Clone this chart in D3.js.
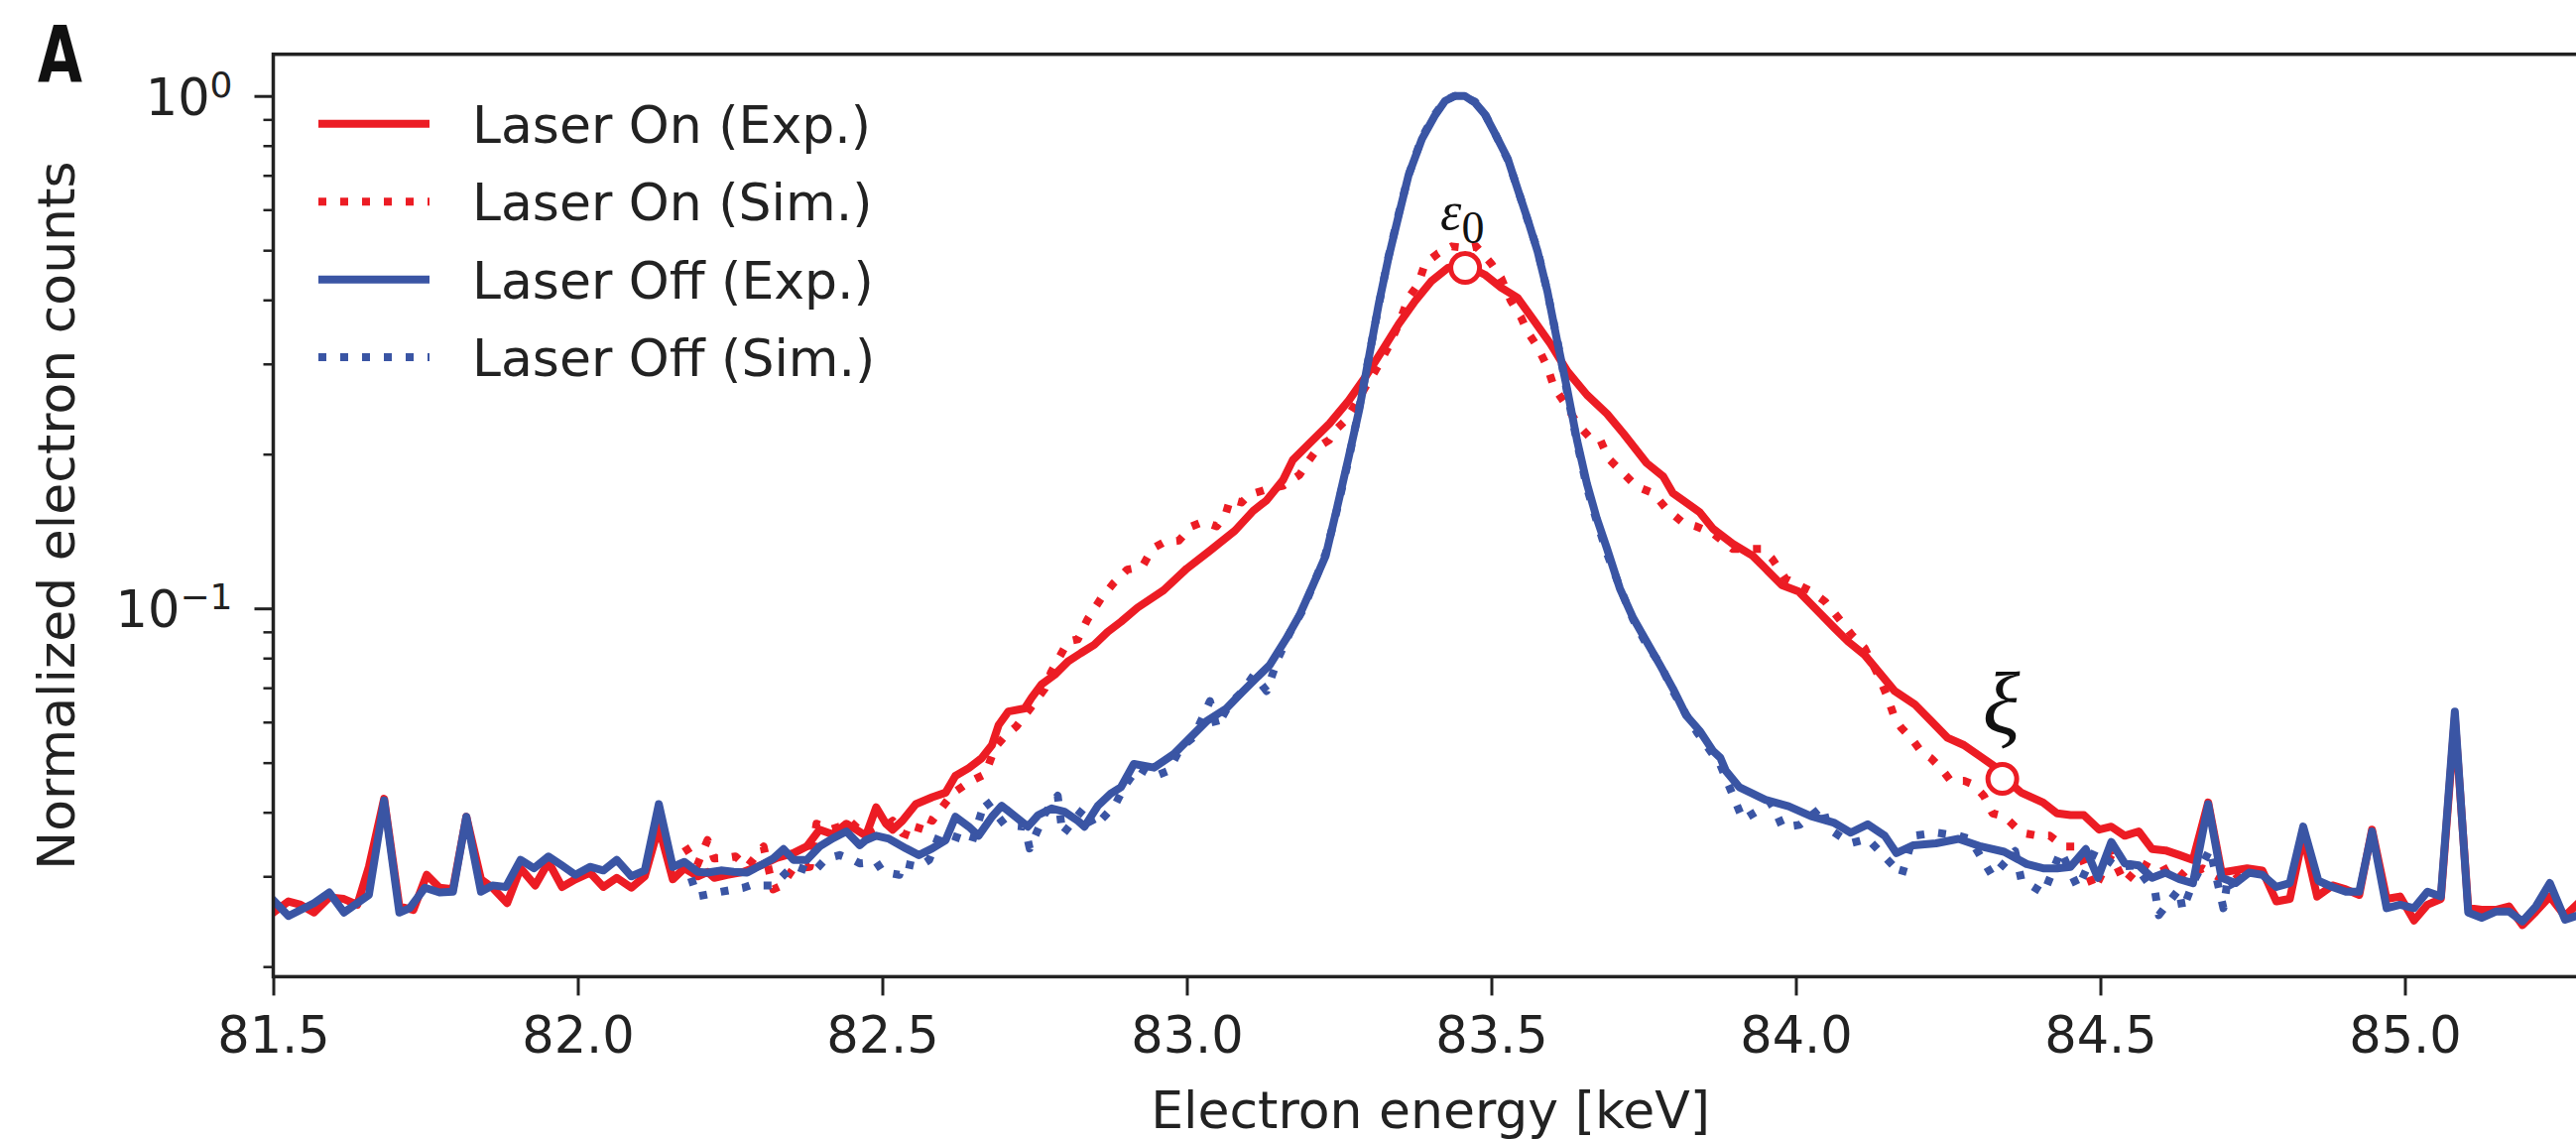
<!DOCTYPE html>
<html>
<head>
<meta charset="utf-8">
<script src="https://cdn.jsdelivr.net/npm/d3@7"></script>
<style>
  html, body { margin: 0; padding: 0; background: #fff; }
  svg { display: block; }
</style>
</head>
<body>
<script>
// ---------------- DATA ----------------
const xTicks = [81.5, 82.0, 82.5, 83.0, 83.5, 84.0, 84.5, 85.0];
const yMajorTicks = [1, 0.1];
const yMajorLabels = [["10", "0"], ["10", "\u22121"]];
const yMinorTicks = [0.02, 0.03, 0.04, 0.05, 0.06, 0.07, 0.08, 0.09, 0.2, 0.3, 0.4, 0.5, 0.6, 0.7, 0.8, 0.9];
const seriesNames = ["Laser On (Exp.)", "Laser On (Sim.)", "Laser Off (Exp.)", "Laser Off (Sim.)"];
const seriesColors = ["#ec1c24", "#ec1c24", "#3a55a4", "#3a55a4"];
const seriesDotted = [false, true, false, true];
const markers = [[83.457, 0.462, "\u03b5", "0"], [84.339, 0.0465, "\u03be", ""]];

const laserOnExp = [
[81.502,0.0256],[81.525,0.0268],[81.545,0.0264],[81.567,0.0255],[81.592,0.0273],[81.616,0.0271],[81.638,0.0264],
[81.657,0.0313],[81.682,0.0425],[81.707,0.0262],[81.730,0.0258],[81.752,0.0302],[81.773,0.0285],[81.795,0.0283],
[81.817,0.0392],[81.841,0.0296],[81.860,0.0285],[81.884,0.0266],[81.906,0.0311],[81.930,0.0288],[81.952,0.0320],
[81.974,0.0286],[81.996,0.0296],[82.020,0.0305],[82.042,0.0286],[82.064,0.0298],[82.088,0.0285],[82.110,0.0300],
[82.133,0.0375],[82.156,0.0296],[82.175,0.0311],[82.197,0.0300],[82.213,0.0306],[82.224,0.0298],[82.245,0.0302],
[82.272,0.0306],[82.300,0.0315],[82.327,0.0326],[82.354,0.0333],[82.376,0.0343],[82.397,0.0370],[82.419,0.0362],
[82.441,0.0380],[82.457,0.0370],[82.473,0.0360],[82.490,0.0409],[82.506,0.0380],[82.517,0.0370],[82.533,0.0385],
[82.555,0.0415],[82.582,0.0428],[82.604,0.0437],[82.620,0.0471],[82.642,0.0488],[82.663,0.0510],[82.680,0.0541],
[82.691,0.0592],[82.707,0.0629],[82.734,0.0638],[82.745,0.0669],[82.761,0.0710],[82.783,0.0742],[82.805,0.0788],
[82.826,0.0818],[82.848,0.0849],[82.870,0.0900],[82.892,0.0942],[82.919,0.1003],[82.962,0.1085],[83.000,0.1196],
[83.038,0.1296],[83.079,0.1418],[83.109,0.1550],[83.131,0.1625],[83.158,0.1780],[83.174,0.1948],[83.201,0.2097],
[83.234,0.2292],[83.266,0.2545],[83.293,0.2828],[83.321,0.3187],[83.348,0.3590],[83.375,0.3982],[83.402,0.4357],
[83.429,0.4622],[83.456,0.4686],[83.489,0.4482],[83.516,0.4226],[83.543,0.4039],[83.570,0.3645],[83.597,0.3284],
[83.625,0.2900],[83.657,0.2610],[83.690,0.2397],[83.717,0.2193],[83.755,0.1921],[83.782,0.1810],[83.798,0.1679],
[83.842,0.1541],[83.864,0.1430],[83.896,0.1337],[83.929,0.1267],[83.950,0.1196],[83.977,0.1110],[84.005,0.1078],
[84.037,0.0985],[84.064,0.0914],[84.086,0.0861],[84.113,0.0811],[84.140,0.0742],[84.162,0.0690],[84.195,0.0650],
[84.222,0.0603],[84.249,0.0559],[84.276,0.0541],[84.303,0.0514],[84.330,0.0488],[84.340,0.0470],[84.370,0.0437],
[84.406,0.0418],[84.429,0.0398],[84.451,0.0395],[84.473,0.0395],[84.498,0.0370],[84.518,0.0375],[84.540,0.0360],
[84.563,0.0367],[84.585,0.0339],[84.607,0.0337],[84.630,0.0330],[84.652,0.0323],[84.677,0.0418],[84.699,0.0305],
[84.719,0.0308],[84.741,0.0311],[84.766,0.0308],[84.789,0.0268],[84.811,0.0271],[84.833,0.0360],[84.856,0.0274],
[84.881,0.0288],[84.903,0.0283],[84.925,0.0276],[84.946,0.0370],[84.970,0.0271],[84.992,0.0274],[85.015,0.0246],
[85.037,0.0264],[85.059,0.0271],[85.082,0.0612],[85.104,0.0260],[85.126,0.0258],[85.149,0.0258],[85.171,0.0262],
[85.193,0.0241],[85.215,0.0256],[85.238,0.0274],[85.263,0.0251],[85.285,0.0266]
];

const laserOnSim = [
[82.176,0.0343],[82.196,0.0315],[82.213,0.0353],[82.224,0.0325],[82.245,0.0326],[82.259,0.0328],[82.278,0.0313],
[82.305,0.0343],[82.321,0.0283],[82.335,0.0288],[82.354,0.0311],[82.381,0.0313],[82.392,0.0380],[82.414,0.0370],
[82.430,0.0375],[82.446,0.0385],[82.473,0.0360],[82.495,0.0370],[82.517,0.0385],[82.533,0.0364],[82.555,0.0356],
[82.566,0.0392],[82.582,0.0385],[82.615,0.0435],[82.642,0.0458],[82.669,0.0475],[82.685,0.0535],[82.699,0.0559],
[82.720,0.0588],[82.739,0.0629],[82.767,0.0698],[82.777,0.0750],[82.805,0.0862],[82.821,0.0870],[82.837,0.0952],
[82.859,0.1045],[82.880,0.1121],[82.902,0.1190],[82.927,0.1206],[82.943,0.1307],[82.962,0.1345],[82.987,0.1356],
[83.008,0.1446],[83.027,0.1476],[83.049,0.1446],[83.063,0.1515],[83.071,0.1633],[83.090,0.1610],[83.103,0.1668],
[83.131,0.1706],[83.158,0.1735],[83.185,0.1822],[83.201,0.1948],[83.217,0.2070],[83.234,0.2132],[83.245,0.2233],
[83.261,0.2329],[83.277,0.2506],[83.293,0.2702],[83.310,0.2916],[83.331,0.3236],[83.348,0.3590],[83.364,0.4039],
[83.380,0.4292],[83.391,0.4706],[83.413,0.4936],[83.435,0.5086],[83.462,0.5046],[83.475,0.5086],[83.500,0.4706],
[83.516,0.4415],[83.532,0.3982],[83.549,0.3694],[83.559,0.3473],[83.576,0.3236],[83.592,0.2957],[83.603,0.2702],
[83.625,0.2470],[83.641,0.2292],[83.663,0.2146],[83.679,0.2132],[83.692,0.1962],[83.717,0.1834],[83.739,0.1727],
[83.766,0.1679],[83.787,0.1566],[83.815,0.1468],[83.836,0.1446],[83.864,0.1400],[83.896,0.1307],[83.945,0.1307],
[83.961,0.1250],[83.983,0.1143],[84.026,0.1078],[84.048,0.1031],[84.070,0.0957],[84.092,0.0887],[84.113,0.0836],
[84.135,0.0742],[84.151,0.0669],[84.162,0.0612],[84.173,0.0585],[84.189,0.0559],[84.205,0.0527],[84.222,0.0510],
[84.238,0.0488],[84.254,0.0461],[84.276,0.0461],[84.292,0.0453],[84.309,0.0430],[84.323,0.0398],[84.342,0.0393],
[84.370,0.0365],[84.398,0.0360],[84.417,0.0360],[84.440,0.0343],[84.462,0.0343],[84.490,0.0283],[84.518,0.0330],
[84.540,0.0291],[84.568,0.0318],[84.596,0.0305],[84.618,0.0315],[84.640,0.0298],[84.668,0.0311],[84.696,0.0298],
[84.719,0.0306],[84.741,0.0286]
];

const laserOffExp = [
[81.502,0.0268],[81.525,0.0251],[81.567,0.0266],[81.592,0.0279],[81.616,0.0255],[81.657,0.0276],[81.682,0.0422],
[81.707,0.0255],[81.724,0.0260],[81.749,0.0285],[81.773,0.0279],[81.795,0.0280],[81.817,0.0392],[81.841,0.0280],
[81.860,0.0288],[81.882,0.0286],[81.906,0.0323],[81.928,0.0311],[81.952,0.0328],[81.974,0.0315],[81.996,0.0302],
[82.020,0.0313],[82.042,0.0308],[82.064,0.0323],[82.088,0.0300],[82.110,0.0308],[82.133,0.0415],[82.156,0.0313],
[82.175,0.0320],[82.197,0.0306],[82.213,0.0305],[82.235,0.0308],[82.256,0.0306],[82.278,0.0305],[82.300,0.0315],
[82.321,0.0325],[82.338,0.0339],[82.354,0.0323],[82.376,0.0323],[82.397,0.0343],[82.419,0.0356],[82.441,0.0367],
[82.463,0.0345],[82.473,0.0353],[82.490,0.0360],[82.511,0.0355],[82.539,0.0340],[82.560,0.0330],[82.582,0.0340],
[82.604,0.0353],[82.620,0.0392],[82.642,0.0375],[82.658,0.0360],[82.680,0.0392],[82.696,0.0412],[82.712,0.0398],
[82.739,0.0375],[82.756,0.0395],[82.778,0.0407],[82.799,0.0401],[82.821,0.0385],[82.832,0.0375],[82.854,0.0412],
[82.875,0.0435],[82.892,0.0448],[82.913,0.0497],[82.946,0.0489],[82.979,0.0520],[83.011,0.0568],[83.033,0.0603],
[83.065,0.0638],[83.087,0.0679],[83.114,0.0731],[83.136,0.0775],[83.163,0.0872],[83.185,0.0970],[83.207,0.1110],
[83.228,0.1267],[83.245,0.1541],[83.266,0.1979],[83.283,0.2441],[83.299,0.3091],[83.315,0.3921],[83.331,0.4827],
[83.348,0.5856],[83.364,0.7001],[83.386,0.8240],[83.407,0.9146],[83.424,0.9780],[83.440,1.0000],[83.456,1.0000],
[83.473,0.9710],[83.489,0.9220],[83.505,0.8490],[83.527,0.7540],[83.543,0.6590],[83.559,0.5770],[83.576,0.4970],
[83.592,0.4160],[83.608,0.3330],[83.625,0.2660],[83.641,0.2120],[83.657,0.1750],[83.673,0.1500],[83.690,0.1307],
[83.711,0.1094],[83.733,0.0957],[83.755,0.0861],[83.777,0.0775],[83.798,0.0698],[83.820,0.0618],[83.842,0.0577],
[83.864,0.0527],[83.876,0.0511],[83.885,0.0482],[83.907,0.0448],[83.929,0.0435],[83.950,0.0423],[83.988,0.0411],
[84.025,0.0393],[84.062,0.0382],[84.090,0.0365],[84.118,0.0379],[84.146,0.0360],[84.165,0.0333],[84.193,0.0345],
[84.230,0.0348],[84.267,0.0355],[84.304,0.0343],[84.342,0.0335],[84.379,0.0317],[84.406,0.0311],[84.429,0.0311],
[84.451,0.0313],[84.476,0.0339],[84.496,0.0298],[84.518,0.0350],[84.540,0.0318],[84.563,0.0315],[84.585,0.0298],
[84.607,0.0305],[84.630,0.0296],[84.652,0.0291],[84.677,0.0415],[84.699,0.0298],[84.722,0.0291],[84.744,0.0305],
[84.766,0.0302],[84.789,0.0286],[84.811,0.0291],[84.833,0.0375],[84.858,0.0294],[84.881,0.0286],[84.903,0.0280],
[84.925,0.0280],[84.946,0.0367],[84.970,0.0260],[84.992,0.0264],[85.015,0.0260],[85.037,0.0280],[85.059,0.0274],
[85.082,0.0629],[85.104,0.0255],[85.126,0.0249],[85.149,0.0256],[85.171,0.0256],[85.193,0.0245],[85.215,0.0262],
[85.238,0.0291],[85.263,0.0247],[85.285,0.0252]
];

const laserOffSim = [
[82.186,0.0298],[82.196,0.0274],[82.229,0.0279],[82.272,0.0285],[82.283,0.0288],[82.321,0.0288],[82.354,0.0315],
[82.386,0.0305],[82.408,0.0325],[82.430,0.0330],[82.452,0.0323],[82.463,0.0318],[82.490,0.0320],[82.501,0.0306],
[82.528,0.0302],[82.533,0.0318],[82.560,0.0313],[82.577,0.0323],[82.593,0.0360],[82.615,0.0360],[82.647,0.0349],
[82.669,0.0422],[82.701,0.0378],[82.734,0.0375],[82.742,0.0340],[82.767,0.0398],[82.788,0.0431],[82.796,0.0362],
[82.832,0.0409],[82.848,0.0375],[82.864,0.0392],[82.883,0.0415],[82.897,0.0448],[82.920,0.0490],[82.946,0.0470],
[82.970,0.0482],[82.990,0.0535],[83.011,0.0560],[83.038,0.0659],[83.049,0.0587],[83.070,0.0650],[83.092,0.0690],
[83.110,0.0742],[83.131,0.0690],[83.150,0.0800],[83.170,0.0900],[83.190,0.0990],[83.210,0.1130],[83.228,0.1280],
[83.245,0.1530],[83.266,0.1960],[83.283,0.2460],[83.299,0.3100],[83.315,0.3900],[83.331,0.4850],[83.348,0.5900],
[83.364,0.7000],[83.386,0.8300],[83.407,0.9200],[83.424,0.9800],[83.440,1.0000],[83.456,0.9950],[83.473,0.9750],
[83.489,0.9250],[83.505,0.8500],[83.527,0.7500],[83.543,0.6600],[83.559,0.5750],[83.576,0.5000],[83.592,0.4150],
[83.608,0.3350],[83.625,0.2620],[83.641,0.2100],[83.657,0.1720],[83.673,0.1480],[83.690,0.1280],[83.711,0.1100],
[83.733,0.0950],[83.755,0.0850],[83.777,0.0780],[83.798,0.0690],[83.820,0.0620],[83.839,0.0570],[83.876,0.0495],
[83.913,0.0387],[83.960,0.0418],[83.978,0.0374],[84.006,0.0378],[84.044,0.0411],[84.053,0.0372],[84.090,0.0348],
[84.118,0.0355],[84.174,0.0302],[84.193,0.0360],[84.230,0.0365],[84.267,0.0360],[84.286,0.0355],[84.323,0.0300],
[84.360,0.0336],[84.370,0.0296],[84.407,0.0278],[84.435,0.0336],[84.463,0.0285],[84.491,0.0336],[84.528,0.0313],
[84.557,0.0315],[84.590,0.0279],[84.596,0.0252],[84.629,0.0283],[84.635,0.0258],[84.652,0.0291],[84.680,0.0339],
[84.702,0.0260],[84.710,0.0300],[84.724,0.0279]
];

const allSeries = [laserOnExp, laserOnSim, laserOffExp, laserOffSim];

// ---------------- CHART ----------------
const W = 2597, H = 1148;
const m = { left: 275.5, right: 2608.7, top: 54.7, bottom: 984.4 };
const textColor = "#222";
const font = "'DejaVu Sans', sans-serif";
const lw = 8;
const dash = "8,14";

const svg = d3.select("body").append("svg")
  .attr("width", W).attr("height", H)
  .attr("viewBox", `0 0 ${W} ${H}`);
svg.append("rect").attr("width", W).attr("height", H).attr("fill", "#fff");

const x = d3.scaleLinear().domain([81.5, 85.3]).range([m.left, m.right]);
const y = d3.scaleLog().domain([0.01911, 1.206]).range([m.bottom, m.top]);

svg.append("defs").append("clipPath").attr("id", "plotclip")
  .append("rect").attr("x", m.left).attr("y", m.top)
  .attr("width", m.right - m.left).attr("height", m.bottom - m.top);

// series lines
const line = d3.line().x(d => x(d[0])).y(d => y(d[1]));
const plot = svg.append("g").attr("clip-path", "url(#plotclip)");
allSeries.forEach((s, i) => {
  plot.append("path")
    .datum(s)
    .attr("d", line)
    .attr("fill", "none")
    .attr("stroke", seriesColors[i])
    .attr("stroke-width", lw)
    .attr("stroke-linejoin", "round")
    .attr("stroke-linecap", seriesDotted[i] ? "butt" : "square")
    .attr("stroke-dasharray", seriesDotted[i] ? dash : null);
});

// marker circles and labels
markers.forEach(mk => {
  plot.append("circle")
    .attr("cx", x(mk[0])).attr("cy", y(mk[1])).attr("r", 14.5)
    .attr("fill", "#fff").attr("stroke", "#ec1c24").attr("stroke-width", 5);
});
// epsilon_0 label
const e0 = svg.append("text")
  .attr("x", x(markers[0][0]) - 25).attr("y", y(markers[0][1]) - 39)
  .attr("font-family", "'Liberation Serif', 'DejaVu Serif', serif")
  .attr("fill", "#111");
e0.append("tspan").attr("font-style", "italic").attr("font-size", 54).text(markers[0][2]);
e0.append("tspan").attr("font-size", 46).attr("dy", 14).text(markers[0][3]);
// xi label
svg.append("text")
  .attr("x", x(markers[1][0]) - 20).attr("y", y(markers[1][1]) - 46)
  .attr("font-family", "'Liberation Serif', 'DejaVu Serif', serif")
  .attr("font-style", "italic").attr("font-size", 88)
  .attr("fill", "#111").text(markers[1][2]);

// axes
const xAxis = d3.axisBottom(x).tickValues(xTicks).tickFormat(d3.format(".1f"))
  .tickSize(19).tickSizeOuter(0).tickPadding(21);
const gx = svg.append("g").attr("transform", `translate(0,${m.bottom})`).call(xAxis);
gx.select(".domain").remove();
gx.selectAll(".tick line").attr("stroke", textColor).attr("stroke-width", 3);
gx.selectAll(".tick text").attr("font-family", font).attr("font-size", 51).attr("fill", textColor);

const yAxisMinor = d3.axisLeft(y).tickValues(yMinorTicks).tickFormat("").tickSize(10).tickSizeOuter(0);
const gyMinor = svg.append("g").attr("transform", `translate(${m.left},0)`).call(yAxisMinor);
gyMinor.select(".domain").remove();
gyMinor.selectAll(".tick line").attr("stroke", textColor).attr("stroke-width", 2.5);

const yAxisMajor = d3.axisLeft(y).tickValues(yMajorTicks).tickFormat("").tickSize(19).tickSizeOuter(0);
const gy = svg.append("g").attr("transform", `translate(${m.left},0)`).call(yAxisMajor);
gy.select(".domain").remove();
gy.selectAll(".tick line").attr("stroke", textColor).attr("stroke-width", 3);
gy.selectAll(".tick").each(function(d, i) {
  const t = d3.select(this).append("text")
    .attr("x", -41).attr("y", 18.5)
    .attr("text-anchor", "end")
    .attr("font-family", font).attr("fill", textColor);
  t.append("tspan").attr("font-size", 51).text(yMajorLabels[i][0]);
  t.append("tspan").attr("font-size", 36).attr("dy", -18).text(yMajorLabels[i][1]);
});

// frame
svg.append("rect")
  .attr("x", m.left).attr("y", m.top)
  .attr("width", m.right - m.left).attr("height", m.bottom - m.top)
  .attr("fill", "none").attr("stroke", textColor).attr("stroke-width", 3.5);

// axis labels
svg.append("text")
  .attr("x", (m.left + m.right) / 2).attr("y", 1137)
  .attr("text-anchor", "middle")
  .attr("font-family", font).attr("font-size", 52).attr("fill", textColor)
  .text("Electron energy [keV]");
svg.append("text")
  .attr("transform", `translate(75,${(m.top + m.bottom) / 2}) rotate(-90)`)
  .attr("text-anchor", "middle")
  .attr("font-family", font).attr("font-size", 52).attr("fill", textColor)
  .text("Normalized electron counts");

// panel letter
svg.append("text")
  .attr("x", 38).attr("y", 82)
  .attr("font-family", "'Liberation Sans Narrow', 'DejaVu Sans Condensed', 'Liberation Sans', sans-serif")
  .attr("font-weight", "bold").attr("font-size", 78)
  .attr("textLength", 45).attr("lengthAdjust", "spacingAndGlyphs")
  .attr("fill", "#111").text("A");

// legend
const legRows = [124.8, 203.3, 281.7, 360];
const leg = svg.append("g");
seriesNames.forEach((name, i) => {
  leg.append("line")
    .attr("x1", 321).attr("x2", 433)
    .attr("y1", legRows[i]).attr("y2", legRows[i])
    .attr("stroke", seriesColors[i]).attr("stroke-width", lw)
    .attr("stroke-linecap", "butt")
    .attr("stroke-dasharray", seriesDotted[i] ? dash : null);
  leg.append("text")
    .attr("x", 476).attr("y", legRows[i] + 19)
    .attr("font-family", font).attr("font-size", 52).attr("fill", textColor)
    .text(name);
});
</script>
</body>
</html>
